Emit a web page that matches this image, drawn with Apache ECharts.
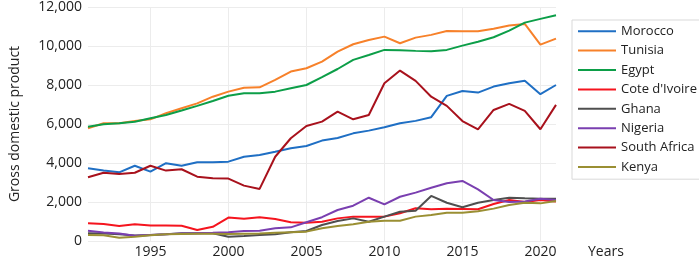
<!DOCTYPE html>
<html>
<head>
<meta charset="utf-8">
<script src="https://cdn.jsdelivr.net/npm/echarts@6/dist/echarts.min.js"></script>
<style>
	html, body { margin: 0; padding: 0; background: #fff; }
	#chart { width: 699px; height: 260px; }
</style>
</head>
<body>
<div id="chart"></div>
<script>
// 年份（类目轴）
const years = [
	"1991", "1992", "1993", "1994", "1995", "1996", "1997", "1998", "1999", "2000",
	"2001", "2002", "2003", "2004", "2005", "2006", "2007", "2008", "2009", "2010",
	"2011", "2012", "2013", "2014", "2015", "2016", "2017", "2018", "2019", "2020", "2021",
];

// 各国数据
const morocco = [3730, 3610, 3520, 3860, 3560, 3990, 3860, 4040, 4040, 4070, 4320, 4410, 4580, 4760, 4870, 5150, 5280, 5520, 5660, 5830, 6040, 6160, 6350, 7440, 7690, 7610, 7920, 8090, 8220, 7530, 8000];
const tunisia = [5780, 6040, 6040, 6160, 6240, 6550, 6810, 7060, 7400, 7660, 7860, 7880, 8260, 8690, 8860, 9200, 9710, 10090, 10310, 10480, 10140, 10430, 10570, 10770, 10760, 10760, 10880, 11050, 11130, 10070, 10380];
const egypt = [5860, 5990, 6040, 6120, 6290, 6460, 6690, 6930, 7180, 7450, 7580, 7580, 7660, 7830, 8000, 8400, 8820, 9290, 9540, 9800, 9780, 9750, 9730, 9800, 10020, 10220, 10450, 10790, 11200, 11390, 11580];
const coteDIvoire = [910, 870, 770, 860, 790, 800, 785, 560, 730, 1200, 1140, 1215, 1130, 960, 940, 990, 1160, 1250, 1250, 1250, 1420, 1680, 1630, 1650, 1640, 1630, 1900, 2100, 2000, 2100, 2020];
const ghana = [400, 390, 350, 280, 310, 350, 400, 400, 400, 220, 260, 310, 350, 450, 510, 820, 1030, 1160, 990, 1250, 1500, 1550, 2310, 1960, 1730, 1960, 2100, 2220, 2190, 2170, 2170];
const nigeria = [530, 430, 390, 270, 310, 340, 380, 400, 420, 450, 510, 530, 650, 700, 960, 1220, 1590, 1810, 2220, 1880, 2270, 2480, 2730, 2960, 3080, 2650, 2100, 2000, 2030, 2170, 2100];
const southAfrica = [3270, 3500, 3440, 3500, 3860, 3610, 3680, 3300, 3220, 3200, 2840, 2670, 4320, 5270, 5900, 6120, 6630, 6240, 6460, 8090, 8740, 8210, 7400, 6930, 6150, 5730, 6720, 7030, 6670, 5730, 6980];
const kenya = [310, 300, 170, 220, 290, 350, 360, 370, 370, 360, 370, 380, 420, 450, 480, 650, 770, 860, 990, 1040, 1040, 1250, 1330, 1450, 1450, 1520, 1660, 1850, 1960, 1930, 2050];

const seriesList = [
	{ name: "Morocco", data: morocco, color: "#1f6fc4" },
	{ name: "Tunisia", data: tunisia, color: "#f7812a" },
	{ name: "Egypt", data: egypt, color: "#0c9e48" },
	{ name: "Cote d'Ivoire", data: coteDIvoire, color: "#f5141e" },
	{ name: "Ghana", data: ghana, color: "#4f4f4f" },
	{ name: "Nigeria", data: nigeria, color: "#7a3fb0" },
	{ name: "South Africa", data: southAfrica, color: "#a8111c" },
	{ name: "Kenya", data: kenya, color: "#9a8f33" },
];

const fontFamily = "'Open Sans', 'Noto Sans', sans-serif";

const chart = echarts.init(document.getElementById("chart"), null, { renderer: "canvas" });

const option = {
	animation: false,
	textStyle: { fontFamily: fontFamily },
	grid: { left: 80, right: 143, top: 7, bottom: 19 },
	legend: {
		orient: "vertical",
		left: 572,
		top: 20,
		padding: [4, 10, 5, 6],
		itemWidth: 38,
		itemHeight: 2,
		itemGap: 5,
		icon: "rect",
		borderColor: "#d9d9d9",
		borderWidth: 1,
		textStyle: { fontSize: 13, color: "#222", lineHeight: 14.4, fontFamily: fontFamily },
		data: seriesList.map((s) => s.name),
	},
	xAxis: {
		type: "category",
		data: years,
		boundaryGap: false,
		name: "Years",
		nameLocation: "end",
		nameGap: 32,
		nameTextStyle: { fontSize: 14, color: "#222", verticalAlign: "top", padding: [4, 0, 0, 0] },
		axisLine: { show: false },
		axisTick: { show: false },
		axisLabel: {
			interval: (idx, val) => Number(val) % 5 === 0,
			fontSize: 14,
			color: "#222",
			margin: 4,
		},
		splitLine: {
			show: true,
			interval: (idx, val) => Number(val) % 5 === 0,
			lineStyle: { color: "#ececec", width: 1 },
		},
	},
	yAxis: {
		type: "value",
		min: 0,
		max: 12000,
		interval: 2000,
		name: "Gross domestic product",
		nameLocation: "middle",
		nameGap: 66,
		nameTextStyle: { fontSize: 14, color: "#222" },
		axisLine: { show: false },
		axisTick: { show: false },
		axisLabel: {
			fontSize: 14,
			color: "#222",
			margin: 6,
			formatter: (v) => v.toLocaleString("en-US"),
		},
		splitLine: { lineStyle: { color: "#ececec", width: 1 } },
	},
	series: seriesList.map((s) => ({
		name: s.name,
		type: "line",
		data: s.data,
		symbol: "none",
		lineStyle: { width: 2, color: s.color },
		itemStyle: { color: s.color },
	})),
};

chart.setOption(option);
</script>
</body>
</html>
